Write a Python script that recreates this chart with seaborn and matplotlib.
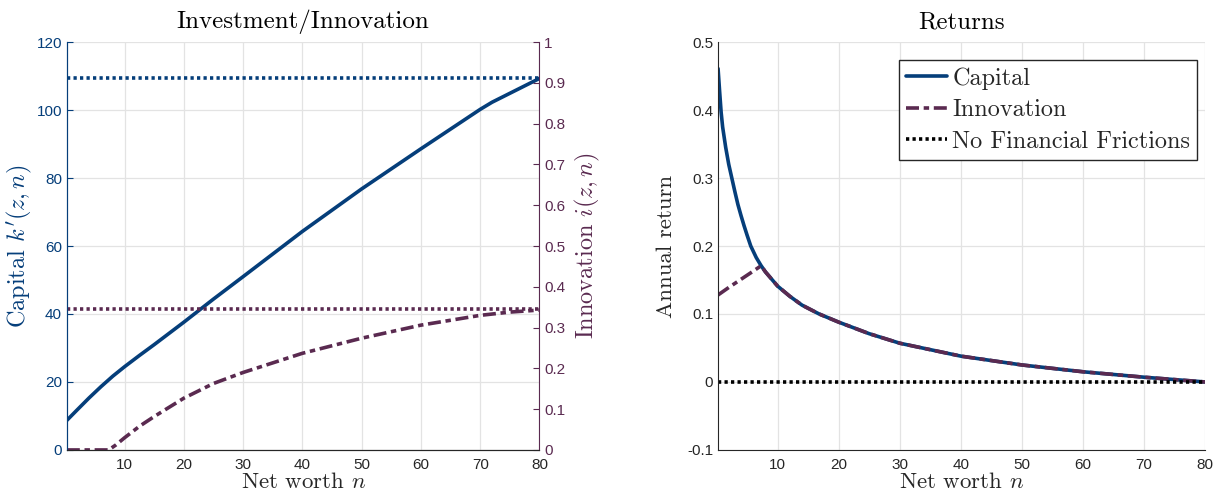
import numpy as np
import pandas as pd
import matplotlib
matplotlib.use("Agg")
import matplotlib.pyplot as plt
import seaborn as sns

# DATA
n_cap = [0.25, 2, 4, 6, 8, 10, 12.5, 15, 20, 25, 30, 40, 50, 60, 70, 72, 76, 80]
k_cap = [8.7, 11.8, 15.3, 18.6, 21.7, 24.5, 27.8, 31.0, 37.6, 44.4, 51.0, 64.3, 76.8,
         88.6, 100.2, 102.3, 105.8, 109.3]
k_nofric = 109.3

n_inn = [0.25, 4, 7.3, 8.5, 10, 12.5, 15, 20, 25, 30, 40, 50, 60, 70, 75, 80]
i_inn = [0.0, 0.0, 0.0, 0.012, 0.030, 0.058, 0.082, 0.127, 0.163, 0.190, 0.237, 0.274,
         0.306, 0.330, 0.338, 0.343]
i_nofric = 0.346

n_ret = [0.25, 0.5, 0.75, 1, 1.5, 2, 2.5, 3, 3.5, 4, 4.5, 5, 5.6, 6.5, 7.3, 8, 10, 12, 14,
         16.8, 20, 25, 30, 40, 50, 60, 70, 80]
r_cap = [0.461, 0.428, 0.397, 0.375, 0.345, 0.320, 0.300, 0.280, 0.261, 0.245, 0.230,
         0.216, 0.200, 0.183, 0.171, 0.162, 0.141, 0.126, 0.113, 0.100, 0.088, 0.071,
         0.057, 0.038, 0.025, 0.015, 0.007, 0.0]
n_ret_inn = [0.25, 2, 4, 6, 7.3, 8, 10, 12, 14, 16.8, 20, 25, 30, 40, 50, 60, 70, 80]
r_inn = [0.128, 0.139, 0.151, 0.163, 0.171, 0.162, 0.141, 0.126, 0.113, 0.100, 0.088,
         0.071, 0.057, 0.038, 0.025, 0.015, 0.007, 0.0]
r_nofric = 0.0

xticks = [10, 20, 30, 40, 50, 60, 70, 80]
k_ticks = [0, 20, 40, 60, 80, 100, 120]
i_ticks = [0, 0.1, 0.2, 0.3, 0.4, 0.5, 0.6, 0.7, 0.8, 0.9, 1]
i_ticklabels = ["0", "0.1", "0.2", "0.3", "0.4", "0.5", "0.6", "0.7", "0.8", "0.9", "1"]
r_ticks = [-0.1, 0, 0.1, 0.2, 0.3, 0.4, 0.5]
r_ticklabels = ["-0.1", "0", "0.1", "0.2", "0.3", "0.4", "0.5"]

# STYLE
sns.set_style("whitegrid")
plt.rcParams["font.family"] = ["Liberation Sans", "DejaVu Sans"]
plt.rcParams["mathtext.fontset"] = "cm"
plt.rcParams["axes.unicode_minus"] = False

BLUE = "#053e7a"
PURPLE = "#5a2a50"
GRAY = "#262626"
GRID = "#e3e3e3"
LW = 2.6
serif = {"family": "cmr10"}
DOT = (0, (0.9, 0.9))
DASHDOT = (0, (3.6, 1.3, 1.5, 1.3))
LABEL_FS = 16.5

fig = plt.figure(figsize=(12.15, 4.95), dpi=100)
ax1 = fig.add_axes([0.055, 0.091, 0.389, 0.824])
ax3 = fig.add_axes([0.591, 0.091, 0.401, 0.824])

# LEFT PANEL
df_k = pd.DataFrame({"n": n_cap, "k": k_cap})
sns.lineplot(data=df_k, x="n", y="k", ax=ax1, color=BLUE, lw=LW, estimator=None, sort=False)
ax1.axhline(k_nofric, color=BLUE, lw=LW, linestyle=DOT)
ax1.set_xlim(0.25, 80)
ax1.set_ylim(0, 120)
ax1.set_xticks(xticks)
ax1.set_yticks(k_ticks)
ax1.grid(True, color=GRID, lw=0.9)
ax1.tick_params(axis="y", colors=BLUE, labelsize=11, direction="in", length=4)
ax1.tick_params(axis="x", colors=GRAY, labelsize=11, direction="in", length=4, pad=6)
ax1.set_xlabel(r"Net worth $n$", fontdict=serif, fontsize=LABEL_FS, color=GRAY, labelpad=0)
ax1.set_ylabel(r"Capital $k'(z,n)$", fontdict=serif, fontsize=LABEL_FS + 1, color=BLUE, labelpad=2)
ax1.set_title("Investment/Innovation", fontdict=serif, fontsize=18, color="black", pad=10)

ax2 = ax1.twinx()
df_i = pd.DataFrame({"n": n_inn, "i": i_inn})
sns.lineplot(data=df_i, x="n", y="i", ax=ax2, color=PURPLE, lw=LW, estimator=None, sort=False,
             linestyle=DASHDOT)
ax2.axhline(i_nofric, color=PURPLE, lw=LW, linestyle=DOT)
ax2.set_ylim(0, 1)
ax2.set_yticks(i_ticks)
ax2.set_yticklabels(i_ticklabels)
ax2.grid(False)
ax2.tick_params(axis="y", colors=PURPLE, labelsize=11, direction="in", length=4)
ax2.set_ylabel(r"Innovation $i(z,n)$", fontdict=serif, fontsize=LABEL_FS + 1, color=PURPLE, labelpad=5)

for a in (ax1, ax2):
    a.spines["top"].set_visible(False)
    a.spines["bottom"].set_color(GRAY)
ax2.spines["left"].set_color(BLUE)
ax1.spines["left"].set_color(BLUE)
ax2.spines["right"].set_color(PURPLE)
ax1.spines["right"].set_visible(False)

# RIGHT PANEL
df_rc = pd.DataFrame({"n": n_ret, "r": r_cap})
df_ri = pd.DataFrame({"n": n_ret_inn, "r": r_inn})
sns.lineplot(data=df_rc, x="n", y="r", ax=ax3, color=BLUE, lw=LW, estimator=None, sort=False,
             label="Capital")
sns.lineplot(data=df_ri, x="n", y="r", ax=ax3, color=PURPLE, lw=LW, estimator=None, sort=False,
             linestyle=DASHDOT, label="Innovation")
ax3.axhline(r_nofric, color="black", lw=LW, linestyle=DOT, label="No Financial Frictions")
ax3.set_xlim(0.25, 80)
ax3.set_ylim(-0.1, 0.5)
ax3.set_xticks(xticks)
ax3.set_yticks(r_ticks)
ax3.set_yticklabels(r_ticklabels)
ax3.grid(True, color=GRID, lw=0.9)
ax3.tick_params(colors=GRAY, labelsize=11, direction="in", length=4)
ax3.tick_params(axis="x", pad=6)
for s in ("top", "right"):
    ax3.spines[s].set_visible(False)
for s in ("left", "bottom"):
    ax3.spines[s].set_color(GRAY)
ax3.set_xlabel(r"Net worth $n$", fontdict=serif, fontsize=LABEL_FS, color=GRAY, labelpad=0)
ax3.set_ylabel("Annual return", fontdict=serif, fontsize=LABEL_FS, color=GRAY, labelpad=8)
ax3.set_title("Returns", fontdict=serif, fontsize=18, color="black", pad=10)

leg = ax3.legend(loc="upper right", bbox_to_anchor=(0.984, 0.956), borderaxespad=0,
                 prop={"family": "cmr10", "size": 17.5}, frameon=True,
                 fancybox=False, edgecolor=GRAY, framealpha=1, handlelength=1.7,
                 handletextpad=0.2, labelspacing=0.38, borderpad=0.3)
leg.get_frame().set_linewidth(1.0)

fig.savefig("out.png", dpi=100)
